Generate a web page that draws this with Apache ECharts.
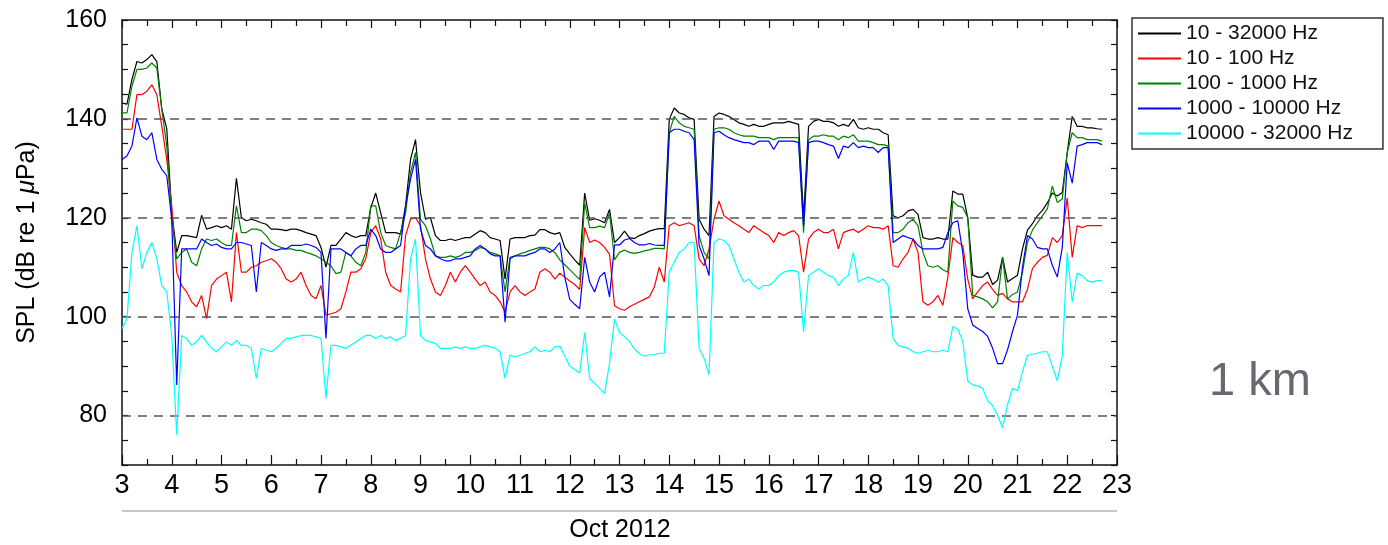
<!DOCTYPE html>
<html>
<head>
<meta charset="utf-8">
<script src="https://cdn.jsdelivr.net/npm/echarts@6/dist/echarts.min.js"></script>
<style>
  html, body { margin: 0; padding: 0; background: #fff; }
  #chart { width: 1388px; height: 545px; }
</style>
</head>
<body>
<div id="chart"></div>
<script>
// sample times, day of Oct 2012
var days = [
  3.0, 3.1, 3.2, 3.3, 3.4, 3.5, 3.6, 3.7, 3.8, 3.9,
  4.0, 4.1, 4.2, 4.3, 4.4, 4.5, 4.6, 4.7, 4.8, 4.9,
  5.0, 5.1, 5.2, 5.3, 5.4, 5.5, 5.6, 5.7, 5.8, 5.9,
  6.0, 6.1, 6.2, 6.3, 6.4, 6.5, 6.6, 6.7, 6.8, 6.9,
  7.0, 7.1, 7.2, 7.3, 7.4, 7.5, 7.6, 7.7, 7.8, 7.9,
  8.0, 8.1, 8.2, 8.3, 8.4, 8.5, 8.6, 8.7, 8.8, 8.9,
  9.0, 9.1, 9.2, 9.3, 9.4, 9.5, 9.6, 9.7, 9.8, 9.9,
  10.0, 10.1, 10.2, 10.3, 10.4, 10.5, 10.6, 10.7, 10.8, 10.9,
  11.0, 11.1, 11.2, 11.3, 11.4, 11.5, 11.6, 11.7, 11.8, 11.9,
  12.0, 12.1, 12.2, 12.3, 12.4, 12.5, 12.6, 12.7, 12.8, 12.9,
  13.0, 13.1, 13.2, 13.3, 13.4, 13.5, 13.6, 13.7, 13.8, 13.9,
  14.0, 14.1, 14.2, 14.3, 14.4, 14.5, 14.6, 14.7, 14.8, 14.9,
  15.0, 15.1, 15.2, 15.3, 15.4, 15.5, 15.6, 15.7, 15.8, 15.9,
  16.0, 16.1, 16.2, 16.3, 16.4, 16.5, 16.6, 16.7, 16.8, 16.9,
  17.0, 17.1, 17.2, 17.3, 17.4, 17.5, 17.6, 17.7, 17.8, 17.9,
  18.0, 18.1, 18.2, 18.3, 18.4, 18.5, 18.6, 18.7, 18.8, 18.9,
  19.0, 19.1, 19.2, 19.3, 19.4, 19.5, 19.6, 19.7, 19.8, 19.9,
  20.0, 20.1, 20.2, 20.3, 20.4, 20.5, 20.6, 20.7, 20.8, 20.9,
  21.0, 21.1, 21.2, 21.3, 21.4, 21.5, 21.6, 21.7, 21.8, 21.9,
  22.0, 22.1, 22.2, 22.3, 22.4, 22.5, 22.6, 22.7
];

// 10 - 32000 Hz
var band10_32000 = [
  143.2, 143, 148, 151.6, 151.3, 152, 153, 151.6, 142, 138,
  121, 113, 116.4, 116.4, 116.2, 116, 120.5, 117.7, 118, 118.4,
  118, 118.4, 117.7, 128, 120, 119.4, 119.7, 119.4, 119, 118.7,
  117.7, 117.7, 117.6, 117.4, 117.7, 117.7, 117.4, 117, 116.7, 116.4,
  114, 110, 114.4, 114.4, 115.7, 117, 116.4, 116, 116.4, 116.4,
  122, 125, 121, 117, 117, 117, 116.7, 122.4, 131.8, 135.8,
  125.1, 119.7, 120, 116.4, 115.4, 115.4, 115.7, 115.4, 115.7, 116,
  116, 116.7, 117.4, 117, 116, 115.7, 115.4, 107.6, 115.7, 116,
  116, 116, 116.4, 116.5, 117.6, 117.6, 117, 116.7, 117, 114,
  112.7, 111.5, 110.4, 125, 119.5, 119.8, 119.5, 119, 121.7, 115,
  116, 117.3, 116, 115.8, 116.4, 116.8, 117.3, 117.6, 117.8, 117.8,
  139.9, 142.2, 141.2, 140.9, 140.2, 139.9, 119.7, 117.7, 116.4, 140.5,
  141.2, 140.9, 140.5, 139.9, 139.2, 138.9, 138.5, 138.9, 138.5, 138.5,
  138.9, 139.2, 139.2, 139.2, 139.5, 139.2, 138.9, 120, 138.5, 139.5,
  139.9, 139.5, 139.5, 139.2, 138.5, 138.9, 138.5, 139.9, 138.2, 137.9,
  138.2, 137.9, 137.9, 137.2, 136.8, 120.4, 120, 120.4, 121.4, 121.7,
  120.7, 116, 115.7, 115.7, 116, 115.7, 115.7, 125.4, 124.8, 124.8,
  120, 108.4, 108, 108, 109, 106.5, 107.4, 112, 107, 107.7,
  108.4, 113.7, 117.5, 118.8, 120.4, 121.5, 123, 125, 124.4, 125.1,
  133.2, 140.5, 138.5, 138.5, 138.2, 138.2, 138, 137.9
];

// 10 - 100 Hz
var band10_100 = [
  137.9, 137.9, 137.9, 144.9, 144.9, 145.6, 146.9, 144.9, 138.5, 131.8,
  122.4, 109, 106.3, 105, 103, 102, 104.3, 99.6, 106.3, 107.6,
  108.3, 109, 103, 117, 109, 109, 110, 110.3, 111, 111.3,
  111.7, 111, 109.7, 107.6, 107, 107.6, 109, 106.3, 104.3, 103.6,
  106.3, 100.3, 100.6, 100.9, 101.6, 105, 109, 109, 109.7, 111.7,
  117, 118.4, 115.7, 109, 106.3, 105.6, 105, 116.4, 119.7, 120,
  118.4, 111.7, 107.6, 105, 104.3, 106.3, 109, 107, 109, 110.3,
  109, 107.6, 106.3, 107, 105, 104.3, 103, 100.9, 105, 106.3,
  105, 104.3, 105, 105.6, 109, 109.7, 109, 107.6, 108.8, 108,
  107.2, 106.5, 105.5, 118, 115, 115.5, 115, 114, 112.6, 102.2,
  101.6, 101.3, 102, 102.5, 103, 103.5, 104, 106, 110, 107,
  118.4, 119, 118.4, 118.7, 119, 118.4, 111.7, 110.3, 113.7, 119.7,
  123.4, 120.4, 119.7, 119, 118.4, 117.7, 117, 118.4, 117.7, 117,
  116.4, 115, 117, 116.4, 117, 117.4, 116.4, 109, 115.7, 117,
  117.7, 117, 117, 117.7, 113.7, 117, 117.4, 117.7, 117, 117.7,
  118.4, 118, 118, 117.7, 118.4, 110.3, 110, 111.7, 113, 115.7,
  113, 103, 102.3, 103, 104.3, 102.3, 108, 116, 115, 114.4,
  107.6, 103.6, 105, 106.3, 107, 105.5, 104.3, 104.7, 103.6, 103,
  103, 103, 105.5, 109.7, 111, 112, 112.4, 116, 115, 116.4,
  124, 112, 118.4, 118, 118.4, 118.4, 118.4, 118.4
];

// 100 - 1000 Hz
var band100_1000 = [
  141.2, 141.2, 146.6, 150, 150, 150.3, 151.3, 150.3, 141.9, 134.5,
  119.7, 111.7, 113, 113.7, 111, 110.3, 113.7, 115.7, 115.4, 115.7,
  115, 114.4, 114.4, 122.4, 117, 117, 117.7, 117.7, 117.4, 116.4,
  115, 114.4, 114, 113.7, 113.7, 113.4, 113.4, 113, 112.7, 112.3,
  111.7, 111, 110.3, 108.7, 109, 113, 112.3, 111, 110.3, 113,
  122.4, 122.4, 117, 114.4, 114, 113.7, 117, 121, 129.1, 133.2,
  119.7, 118.4, 115.7, 112.3, 112, 112, 112.3, 112, 112.3, 113,
  113, 113.4, 114, 113.7, 113, 112.7, 112.3, 105, 112, 112.3,
  112.7, 113, 113.4, 113.7, 114, 114, 113.7, 113, 111.5, 110.5,
  109.5, 108.5, 107.5, 123, 118, 118, 118.3, 118, 121, 111.5,
  113, 113.5, 113, 112.8, 113, 113.3, 113.5, 113.8, 113.8, 113.7,
  137.2, 140.5, 139.2, 138.5, 138.2, 137.9, 116.4, 113, 111.7, 137.9,
  138.2, 138.2, 137.9, 137.2, 136.8, 136.5, 136.5, 136.5, 136.2, 136.2,
  136.2, 135.8, 136.2, 136.2, 136.2, 136.2, 136.2, 117, 135.8, 136.5,
  136.5, 136.8, 136.5, 136.5, 135.8, 136.5, 136.2, 136.8, 135.5, 135.5,
  135.5, 135.2, 134.8, 134.8, 134.5, 117, 117, 117.7, 119, 119.7,
  118.4, 113, 110.3, 110, 110.3, 109.5, 109, 123.4, 122.4, 122.1,
  120, 104.3, 104, 103.6, 103, 101.8, 103, 112, 103.6, 104.5,
  105, 109, 115, 117.5, 119, 120.4, 121.8, 126.4, 123.1, 123.8,
  133.2, 137.2, 136.2, 136.2, 135.8, 135.8, 135.8, 135.5
];

// 1000 - 10000 Hz
var band1000_10000 = [
  131.8, 132.5, 134.5, 140.2, 136.5, 135.8, 137.2, 131.8, 129.8, 128.5,
  119.7, 86.2, 113.7, 113.7, 113.7, 113.7, 115.7, 115, 114.4, 114.7,
  114, 113.7, 113.7, 115, 115, 114.7, 114.4, 105, 115, 114.4,
  113.7, 113.4, 113.7, 113.7, 114.4, 114.4, 114.4, 114.7, 114.4, 114,
  113, 95.6, 113.7, 113.7, 113.7, 113, 112.3, 113.7, 114.4, 114.4,
  117.7, 116.4, 113.7, 113, 113, 113.7, 114.4, 122.4, 127.8, 131.8,
  117.7, 114.4, 113.7, 112.3, 111.7, 111.3, 111.3, 111.7, 111.7, 112,
  112.3, 113.7, 114.4, 113.7, 112.7, 112.3, 112.3, 98.9, 111.7, 112.3,
  112.3, 112.3, 112.7, 113, 113.7, 113.7, 113, 113.7, 115, 108,
  103.5, 102.5, 101.6, 112, 107, 105, 108, 109, 104, 114.5,
  114.5, 115.5, 115.8, 115, 114.5, 114.5, 114.8, 114.5, 114.4, 114.4,
  137.2, 137.9, 137.9, 137.5, 137.2, 135.8, 114.4, 111.7, 108.3, 137.2,
  137.5, 136.8, 136.2, 135.8, 135.5, 135.2, 135.2, 134.8, 135.5, 135.5,
  135.5, 133.8, 135.5, 135.5, 135.5, 135.5, 135.2, 118.4, 135.2, 135.5,
  135.5, 135.2, 134.8, 134.5, 132, 134.5, 134.2, 135.2, 134.2, 134.5,
  134.2, 134.2, 133.2, 134.2, 134.2, 115, 115.7, 116.4, 116, 115.7,
  114.4, 113.7, 113.7, 113.7, 113.7, 114, 117, 119, 119.4, 113,
  101.6, 98.3, 97.6, 97, 96, 93.6, 90.5, 90.5, 93.3, 97,
  100.3, 110, 116.4, 115.7, 114, 113.7, 113.7, 110.4, 108, 114,
  131.1, 127, 134.5, 134.8, 135.2, 135.2, 135.2, 134.8
];

// 10000 - 32000 Hz
var band10000_32000 = [
  97.6, 99.6, 113, 118.4, 109.7, 113, 115, 111.7, 106.3, 105,
  96.2, 76.1, 96.2, 95.6, 94.2, 94.9, 96.2, 94.9, 93.6, 92.9,
  93.9, 94.9, 94.2, 95.2, 94.2, 94.2, 93.6, 87.5, 93.6, 93.2,
  92.9, 93.6, 94.6, 95.6, 95.6, 95.9, 96.2, 96.2, 96.2, 95.9,
  95.6, 83.5, 94.2, 94.2, 93.9, 93.6, 94.2, 94.9, 95.6, 96.2,
  96.2, 95.6, 96.2, 95.6, 95.9, 95.2, 95.6, 96.2, 111.7, 115.7,
  96.2, 95.2, 94.9, 94.6, 93.6, 93.6, 93.6, 93.9, 93.6, 93.9,
  93.6, 93.6, 93.9, 94.2, 93.9, 93.6, 92.9, 87.5, 92.2, 91.9,
  92.2, 92.6, 92.9, 93.9, 92.9, 93.2, 92.9, 93.9, 94, 92,
  90, 89.3, 88.6, 96.8, 87.5, 86.5, 85.5, 84.5, 90.6, 99.5,
  96.8, 96, 95, 93.5, 92.5, 92, 92.3, 92.3, 92.6, 92.6,
  109, 111, 113, 113.7, 115, 115, 93.6, 91.6, 88.2, 115,
  115.7, 115.4, 114.4, 111.7, 109, 107, 107.6, 106.3, 105.6, 106.3,
  106.3, 107, 108.3, 109, 109.3, 109.3, 109, 96.9, 108.3, 109,
  109.7, 109, 108.3, 108, 106.3, 107.6, 108.3, 113, 107, 107.6,
  108, 107.6, 107, 107.6, 106.3, 95.6, 94.2, 93.9, 93.6, 92.9,
  92.6, 92.9, 93.2, 92.9, 92.9, 93.2, 92.9, 98, 97.5, 95,
  87, 86.2, 86, 85.5, 83, 82, 80, 77.5, 82.2, 85.5,
  85, 88.9, 92.2, 92.4, 92.6, 92.9, 92.9, 90, 87, 92,
  113, 103, 108.8, 108.3, 107.3, 107, 107.3, 107.3
];

var seriesNames = ['10 - 32000 Hz', '10 - 100 Hz', '100 - 1000 Hz', '1000 - 10000 Hz', '10000 - 32000 Hz'];
var seriesValues = [band10_32000, band10_100, band100_1000, band1000_10000, band10000_32000];
var seriesColors = ['#000000', '#ff0000', '#008000', '#0000ff', '#00ffff'];
var gridValues = [80, 100, 120, 140];

var font = 'Liberation Sans, Arial, Helvetica, sans-serif';

var myChart = echarts.init(document.getElementById('chart'));

var series = [{
  name: 'grid',
  type: 'line',
  data: [],
  z: 1,
  silent: true,
  markLine: {
    silent: true,
    symbol: ['none', 'none'],
    label: { show: false },
    lineStyle: { type: [9, 7], color: '#555', width: 1.5 },
    data: gridValues.map(function (v) { return { yAxis: v }; }),
  },
}];
seriesNames.forEach(function (name, k) {
  series.push({
    name: name,
    type: 'line',
    symbol: 'none',
    z: 2 + k,
    lineStyle: { color: seriesColors[k], width: 1.2 },
    itemStyle: { color: seriesColors[k] },
    data: days.map(function (d, i) { return [d, seriesValues[k][i]]; }),
  });
});

var axisLine = { show: true, onZero: false, lineStyle: { color: '#111', width: 1.5 } };

myChart.setOption({
  animation: false,
  grid: { left: 122, right: 271, top: 20, bottom: 80, containLabel: false },
  legend: {
    data: seriesNames,
    orient: 'vertical',
    left: 1132,
    top: 18,
    icon: 'rect',
    itemWidth: 43,
    itemHeight: 2,
    itemGap: 4,
    padding: [5, 30, 5, 6],
    borderColor: '#333',
    borderWidth: 1.5,
    textStyle: { fontFamily: font, fontSize: 21, lineHeight: 20, color: '#111' },
  },
  xAxis: [{
    type: 'value',
    min: 3,
    max: 23,
    interval: 1,
    axisLine: axisLine,
    axisTick: { show: true, inside: true, length: 10, lineStyle: { color: '#111', width: 1.2 } },
    minorTick: { show: true, splitNumber: 2, length: 6, lineStyle: { color: '#111', width: 1.2 } },
    axisLabel: { fontFamily: font, fontSize: 27, color: '#000', margin: 7 },
    splitLine: { show: false },
  }, {
    type: 'value',
    position: 'top',
    min: 3,
    max: 23,
    interval: 1,
    axisLine: axisLine,
    axisTick: { show: true, inside: true, length: 8, lineStyle: { color: '#111', width: 1.2 } },
    minorTick: { show: true, splitNumber: 2, length: 6, lineStyle: { color: '#111', width: 1.2 } },
    axisLabel: { show: false },
    splitLine: { show: false },
  }],
  yAxis: [{
    type: 'value',
    min: 70,
    max: 160,
    interval: 5,
    name: 'SPL (dB re 1 {mu|μ}Pa)',
    nameLocation: 'middle',
    nameRotate: 90,
    nameGap: 82,
    nameTextStyle: {
      fontFamily: font,
      fontSize: 25,
      color: '#000',
      rich: { mu: { fontFamily: font, fontSize: 25, fontStyle: 'italic', color: '#000' } },
    },
    axisLine: axisLine,
    axisTick: { show: true, inside: true, length: 6, lineStyle: { color: '#111', width: 1.2 } },
    axisLabel: {
      fontFamily: font,
      fontSize: 25,
      color: '#000',
      margin: 15,
      formatter: function (v) { return v % 20 === 0 ? String(v) : ''; },
    },
    splitLine: { show: false },
  }, {
    type: 'value',
    position: 'right',
    min: 70,
    max: 160,
    interval: 5,
    axisLine: axisLine,
    axisTick: { show: true, inside: true, length: 6, lineStyle: { color: '#111', width: 1.2 } },
    axisLabel: { show: false },
    splitLine: { show: false },
  }],
  graphic: [
    {
      type: 'line',
      shape: { x1: 122, y1: 511, x2: 1117, y2: 511 },
      style: { stroke: '#c8c8c8', lineWidth: 2 },
    },
    {
      type: 'text',
      x: 620,
      y: 530,
      style: { text: 'Oct 2012', fontFamily: font, fontSize: 25, fill: '#000', textAlign: 'center', textVerticalAlign: 'middle' },
    },
    {
      type: 'text',
      x: 1209,
      y: 382,
      style: { text: '1 km', fontFamily: font, fontSize: 47, fill: '#666a70', textAlign: 'left', textVerticalAlign: 'middle' },
    },
  ],
  series: series,
});
</script>
</body>
</html>
